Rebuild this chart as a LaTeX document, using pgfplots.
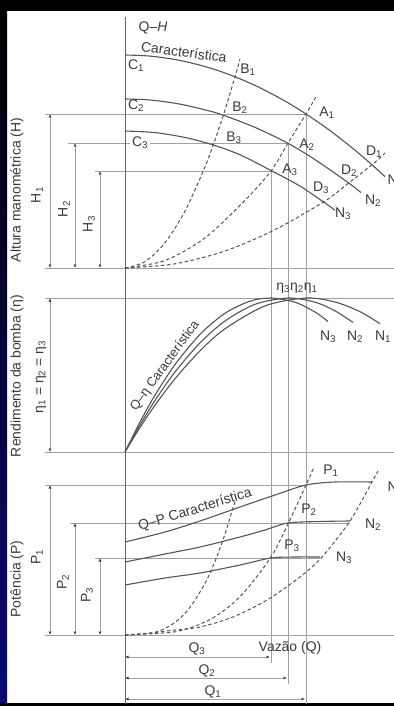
\documentclass[border=0pt]{standalone}
\usepackage{pgfplots}
\pgfplotsset{compat=1.18}
\usepackage{fontspec}
\setmainfont{Liberation Sans}
\usetikzlibrary{arrows.meta}
\definecolor{thin}{HTML}{A0A0A0}
\definecolor{crv}{HTML}{555555}
\definecolor{txt}{HTML}{3A3A3A}
\definecolor{navy}{HTML}{0A0A72}
\tikzset{
  thinl/.style={color=thin, line width=0.9bp},
  solidc/.style={color=crv, line width=1.1bp, smooth},
  dashc/.style={color=crv, line width=1bp, smooth, dash pattern=on 3.5bp off 2.5bp},
  dim/.style={color=thin, line width=0.9bp, {Latex[length=3.5bp,width=3bp,color=txt]}-{Latex[length=3.5bp,width=3bp,color=txt]}},
  lab/.style={font=\fontsize{14}{16}\selectfont, text=txt, inner sep=0.5bp},
  ylab/.style={font=\fontsize{14}{16}\selectfont, text=txt, rotate=90, inner sep=0pt},
}
\begin{document}
\begin{tikzpicture}
\begin{axis}[
  scale only axis, width=394bp, height=706bp,
  xmin=0, xmax=394, ymin=0, ymax=706, y dir=reverse,
  axis lines=none, clip=false, enlargelimits=false,
  every axis plot/.append style={no marks},
]
% frame
\fill[black] (axis cs:0,0) rectangle (axis cs:394,11);
\shade[top color=black, bottom color=navy] (axis cs:0,0) rectangle (axis cs:7,706);
\fill[black] (axis cs:0,702.5) rectangle (axis cs:394,706);
\coordinate (SW) at (axis cs:0,706);
\coordinate (NE) at (axis cs:394,0);

% ---------- reference lines ----------
\addplot[thinl] coordinates {(45,114) (306,114)};
\addplot[thinl] coordinates {(68,143) (288,143)};
\addplot[thinl] coordinates {(95,171) (271,171)};
\addplot[thinl] coordinates {(45,268) (394,268)};
\addplot[thinl] coordinates {(45,298) (394,298)};
\addplot[thinl] coordinates {(45,452) (394,452)};
\addplot[thinl] coordinates {(45,485) (306,485)};
\addplot[thinl] coordinates {(70,523) (350,523)};
\addplot[thinl] coordinates {(95,558) (320,558)};
\addplot[thinl] coordinates {(45,635) (394,635)};
\addplot[thinl] coordinates {(271,171) (271,663)};
\addplot[thinl] coordinates {(288,143) (288,684)};
\addplot[thinl] coordinates {(306,114) (306,704)};
\addplot[color=crv!90, line width=1bp] coordinates {(125,17) (125,704)};

% dimension arrows
\addplot[dim] coordinates {(50,114) (50,268)};
\addplot[dim] coordinates {(75,143) (75,268)};
\addplot[dim] coordinates {(100,171) (100,268)};
\addplot[dim] coordinates {(50,298) (50,452)};
\addplot[dim] coordinates {(50,485) (50,635)};
\addplot[dim] coordinates {(75,523) (75,635)};
\addplot[dim] coordinates {(100,558) (100,635)};
\addplot[dim] coordinates {(125,657) (270,657)};
\addplot[dim] coordinates {(125,678) (287,678)};
\addplot[dim] coordinates {(125,699) (305,699)};

% ---------- Q-H panel ----------
\addplot[solidc] coordinates {(125,55) (150,56.1) (180,60.4) (210,68) (235,76.8) (260,87.8) (285,101.1) (306,114) (330,130.6) (355,150.2) (373,165.7) (385,176.7)};
\addplot[solidc] coordinates {(125,99) (150,100) (180,104.1) (210,111.1) (225,115.8) (255,127.4) (288,143.3) (315,159.6) (348,182.5) (361,192.6)};
\addplot[solidc] coordinates {(125,131) (155,132.6) (185,137.5) (213,144.9) (240,154.8) (271,170.5) (300,186.1) (325,203) (335,210.4)};
\addplot[dashc] coordinates {(125,268) (145,261.7) (165,242.7) (185,211.1) (205,166.9) (215,140) (225,110) (235,76.8) (240,59)};
\addplot[dashc] coordinates {(125,268) (165,260.5) (205,237.9) (245,200.3) (271,171) (288,143) (306,114) (317,95)};
\addplot[dashc] coordinates {(125,268) (175,263.8) (225,251) (275,229.7) (325,201) (348,183.5) (373,164) (385,153)};

% ---------- Q-eta panel ----------
\addplot[solidc] coordinates {(125,452) (140,422) (155,395.2) (175,364.6) (200,334.4) (225,313.3) (250,301.2) (271,298) (295,302.2) (315,312) (328,321.5)};
\addplot[solidc] coordinates {(125,452) (140,425) (155,400.5) (175,372) (200,342.9) (225,321) (255,304.3) (288,298) (315,302.2) (335,310.8) (353,322.5)};
\addplot[solidc] coordinates {(125,452) (140,427.5) (155,405.2) (175,378.7) (200,350.8) (225,328.8) (265,305.9) (306,298) (335,302) (360,311.7) (380,323.7)};

% ---------- Q-P panel ----------
\addplot[solidc] coordinates {(125,542) (165,532) (200,521) (240,507) (275,495) (306,485) (335,482) (372,482)};
\addplot[solidc] coordinates {(125,562) (165,554) (200,547) (240,537) (265,530) (288,523) (320,521.5) (350,521)};
\addplot[solidc] coordinates {(125,585) (165,578) (200,573) (240,565) (271,558) (295,557) (320,557)};
\addplot[dashc] coordinates {(125,635) (155,632.3) (175,622.4) (190,607.3) (205,583.3) (215,561.4) (225,534) (233,507.8) (236,500)};
\addplot[dashc] coordinates {(125,635) (175,631.8) (205,622) (225,609.7) (245,591.3) (271,557) (288,524) (306,485) (314,467)};
\addplot[dashc] coordinates {(125,635) (150,633) (175,630) (200,627) (233,617) (267,600) (300,577) (322,557) (350,521) (372,482) (378,471)};

% ---------- texts ----------
\node[lab] at (axis cs:153,28) {Q–\textit{H}};
\node[lab, rotate=-8] at (axis cs:184,52) {Característica};
\node[lab] at (axis cs:136,66) {C\textsubscript{1}};
\node[lab] at (axis cs:136,106) {C\textsubscript{2}};
\node[lab, fill=white, inner sep=2bp] at (axis cs:140,143) {C\textsubscript{3}};
\node[lab] at (axis cs:248,70) {B\textsubscript{1}};
\node[lab] at (axis cs:240,108) {B\textsubscript{2}};
\node[lab] at (axis cs:234,138) {B\textsubscript{3}};
\node[lab] at (axis cs:327,113) {A\textsubscript{1}};
\node[lab] at (axis cs:307,145) {A\textsubscript{2}};
\node[lab] at (axis cs:290,170) {A\textsubscript{3}};
\node[lab] at (axis cs:374,152) {D\textsubscript{1}};
\node[lab] at (axis cs:349,171) {D\textsubscript{2}};
\node[lab] at (axis cs:321,188) {D\textsubscript{3}};
\node[lab, anchor=west] at (axis cs:387,181) {N\textsubscript{1}};
\node[lab] at (axis cs:373,201) {N\textsubscript{2}};
\node[lab] at (axis cs:343,214) {N\textsubscript{3}};

\node[ylab] at (axis cs:17,190) {Altura manométrica (H)};
\node[lab, rotate=90] at (axis cs:37,195) {H\textsubscript{1}};
\node[lab, rotate=90] at (axis cs:64,209) {H\textsubscript{2}};
\node[lab, rotate=90] at (axis cs:89,224) {H\textsubscript{3}};

\node[lab] at (axis cs:297,288) {η\textsubscript{3}η\textsubscript{2}η\textsubscript{1}};
\node[lab] at (axis cs:328,337) {N\textsubscript{3}};
\node[lab] at (axis cs:355,337) {N\textsubscript{2}};
\node[lab] at (axis cs:383,337) {N\textsubscript{1}};
\node[lab, rotate=54, font=\fontsize{13}{15}\selectfont] at (axis cs:165,366) {Q–η Característica};
\node[ylab] at (axis cs:17,376) {Rendimento da bomba (η)};
\node[lab, rotate=90] at (axis cs:41,377) {η\textsubscript{1} = η\textsubscript{2} = η\textsubscript{3}};

\node[lab, rotate=17] at (axis cs:195,510) {Q–P Característica};
\node[lab] at (axis cs:331,471) {P\textsubscript{1}};
\node[lab] at (axis cs:309,510) {P\textsubscript{2}};
\node[lab] at (axis cs:292,546) {P\textsubscript{3}};
\node[lab, anchor=west] at (axis cs:387,488) {N\textsubscript{1}};
\node[lab] at (axis cs:373,525) {N\textsubscript{2}};
\node[lab] at (axis cs:344,558) {N\textsubscript{3}};
\node[ylab] at (axis cs:17,579) {Potência (P)};
\node[lab, rotate=90] at (axis cs:37,557) {P\textsubscript{1}};
\node[lab, rotate=90] at (axis cs:63,582) {P\textsubscript{2}};
\node[lab, rotate=90] at (axis cs:87,595) {P\textsubscript{3}};

\node[lab] at (axis cs:197,649) {Q\textsubscript{3}};
\node[lab] at (axis cs:207,671) {Q\textsubscript{2}};
\node[lab] at (axis cs:213,692) {Q\textsubscript{1}};
\node[lab] at (axis cs:290,648) {Vazão (Q)};
\end{axis}
\pgfresetboundingbox
\path[use as bounding box] (SW) rectangle (NE);
\end{tikzpicture}
\end{document}
